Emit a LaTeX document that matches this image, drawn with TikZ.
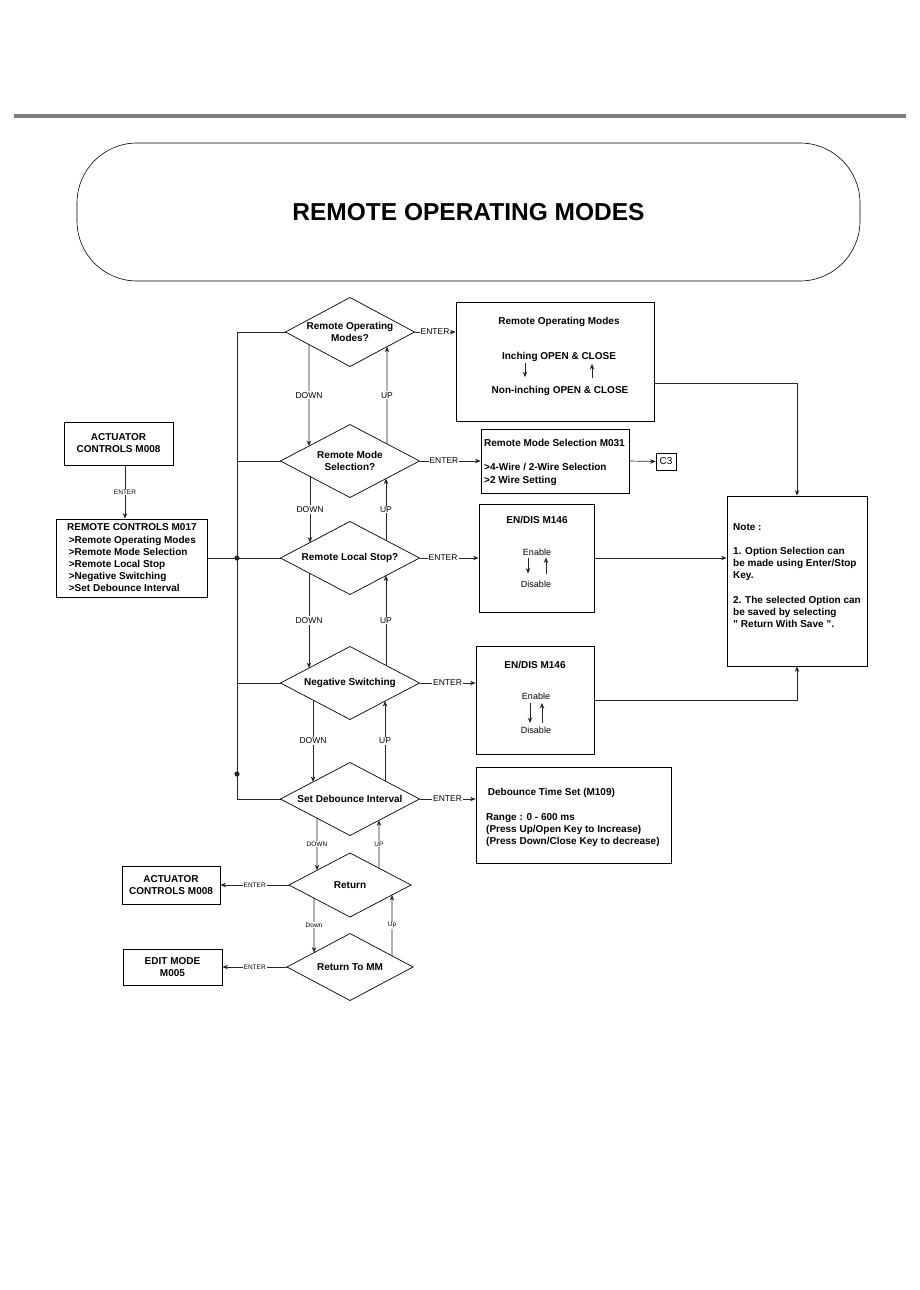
\documentclass[tikz,border=0pt]{standalone}
\usepackage{fontspec}
\setmainfont{Liberation Sans}
\usetikzlibrary{arrows.meta, positioning, shapes.geometric, calc}
\definecolor{bandeau}{HTML}{7F7F7F}
\definecolor{trait}{HTML}{262626}

\begin{document}
\begin{tikzpicture}[x=1pt, y=-1pt,
    boite/.style={draw=black, line width=0.8pt, inner sep=0pt, align=center,
      font=\fontsize{10}{12}\selectfont\bfseries},
    choix/.style={draw=black, line width=0.7pt, diamond, aspect=1.9, inner sep=0pt,
      outer sep=0pt, align=center, font=\fontsize{10}{12}\selectfont\bfseries},
    texte/.style={inner sep=0pt, align=left, font=\fontsize{10}{12}\selectfont\bfseries},
    reg/.style={inner sep=0pt, font=\fontsize{9}{11}\selectfont},
    lien/.style={draw=trait, line width=0.7pt},
    fleche/.style={lien, -{Stealth[length=5.5pt, width=4.5pt]}},
    etiq/.style={fill=white, inner sep=1pt, font=\fontsize{8.5}{10}\selectfont},
    petite/.style={fill=white, inner sep=0.8pt, font=\fontsize{6.5}{8}\selectfont}]
  \useasboundingbox (0,0) rectangle (920,1290);
  % Bandeau et titre
  \fill[bandeau] (14,114) rectangle (906,118);
  \node[draw=black, line width=0.6pt, rounded corners=60pt, minimum width=783,
    minimum height=138, font=\fontsize{24.5}{28}\selectfont\bfseries] (titre) at (468.5,212) {REMOTE OPERATING MODES};
  % Menu de gauche
  \node[boite, minimum width=109, minimum height=43] (act1) at (118.5,443.5) {ACTUATOR\\CONTROLS M008};
  \node[boite, minimum width=151, minimum height=78] (rc) at (131.5,558) {};
  \node[texte, anchor=west, font=\fontsize{10}{12.2}\selectfont\bfseries] (rct) at (67,558) {REMOTE CONTROLS M017\\
    \,>Remote Operating Modes\\ \,>Remote Mode Selection\\ \,>Remote Local Stop\\
    \,>Negative Switching\\ \,>Set Debounce Interval};
  \node[boite, minimum width=98, minimum height=38] (act2) at (171,885) {ACTUATOR\\CONTROLS M008};
  \node[boite, minimum width=99, minimum height=36] (edit) at (172.5,967) {EDIT MODE\\M005};
  % Losanges
  \node[choix, minimum width=129, minimum height=69] (d1) at (350,332) {Remote Operating\\Modes?};
  \node[choix, minimum width=139, minimum height=73] (d2) at (350,461) {Remote Mode\\Selection?};
  \node[choix, minimum width=139, minimum height=73] (d3) at (350,558) {Remote Local Stop?};
  \node[choix, minimum width=139, minimum height=73] (d4) at (350,683) {Negative Switching};
  \node[choix, minimum width=139, minimum height=73] (d5) at (350,799) {Set Debounce Interval};
  \node[choix, minimum width=122, minimum height=64] (d6) at (350,885) {Return};
  \node[choix, minimum width=126, minimum height=67] (d7) at (350,967) {Return To MM};
  % Boites de droite
  \node[boite, minimum width=198, minimum height=119] (rom) at (555,361.5) {};
  \node[texte] (romt) at (559,322) {Remote Operating Modes};
  \node[texte] (inch) at (559,357) {Inching OPEN \& CLOSE};
  \node[texte] (ninch) at (560,391) {Non-inching OPEN \& CLOSE};
  \draw[fleche, shorten <=1pt, shorten >=9pt] ([xshift=-34pt]inch.south) -- ([xshift=-35pt]ninch.north);
  \draw[fleche, shorten <=8pt, shorten >=2pt] ([xshift=32pt]ninch.north) -- ([xshift=33pt]inch.south);
  \node[boite, minimum width=148, minimum height=64] (rms) at (555,461) {};
  \node[texte, anchor=north west, font=\fontsize{10}{12.5}\selectfont\bfseries] (rmst) at (484,439.5)
    {Remote Mode Selection M031\\[11.5pt]>4-Wire / 2-Wire Selection\\>2 Wire Setting};
  \node[draw=black, line width=0.6pt, minimum width=20, minimum height=17, inner sep=0pt,
    font=\fontsize{10}{12}\selectfont] (c3) at (666,461.5) {C3};
  \node[boite, minimum width=115, minimum height=108] (en1) at (536.5,558) {};
  \node[texte] (en1t) at (537,520) {EN/DIS M146};
  \node[reg] (ena1) at (537,552) {Enable};
  \node[reg] (dis1) at (536,584) {Disable};
  \draw[fleche, shorten <=2pt, shorten >=7pt] ([xshift=-9pt]ena1.south) -- ([xshift=-8pt]dis1.north);
  \draw[fleche, shorten <=7pt, shorten >=2pt] ([xshift=10pt]dis1.north) -- ([xshift=9pt]ena1.south);
  \node[boite, minimum width=118, minimum height=108] (en2) at (535,700) {};
  \node[texte] (en2t) at (535,665) {EN/DIS M146};
  \node[reg] (ena2) at (536,696) {Enable};
  \node[reg] (dis2) at (536,730) {Disable};
  \draw[fleche, line width=1pt, shorten <=3.5pt, shorten >=3.5pt] ([xshift=-6pt]ena2.south) -- ([xshift=-6pt]dis2.north);
  \draw[fleche, shorten <=3.5pt, shorten >=3.5pt] ([xshift=6pt]dis2.north) -- ([xshift=6pt]ena2.south);
  \node[boite, minimum width=140, minimum height=170] (note) at (797,581) {};
  \node[texte, anchor=north west] (notet) at (733,523.5) {Note :\\[12pt]1. Option Selection can\\
    be made using Enter/Stop\\Key.\\[13pt]2. The selected Option can\\be saved by selecting\\
    " Return With Save ".};
  \node[boite, minimum width=195, minimum height=96] (deb) at (573.5,815) {};
  \node[texte, anchor=north west] (debt) at (486,788) {\,Debounce Time Set (M109)\\[13pt]Range : 0 - 600 ms\\
    (Press Up/Open Key to Increase)\\(Press Down/Close Key to decrease)};
  % Bus de gauche
  \coordinate (bh) at (237,332);
  \coordinate (bb) at (237,799);
  \coordinate (pt) at (237,774);
  \draw[lien] (d1.west) -- (bh) -- (bb) -- (d5.west);
  \foreach \d in {d2,d4} \draw[lien] (\d.west) -- (\d.west -| bh);
  \draw[lien] (rc.east) -- (d3.west);
  \fill[trait] (d3.west -| bh) circle (2.6);
  \fill[trait] (pt) circle (2.6);
  \draw[fleche] ([xshift=6.5pt]act1.south) -- ([xshift=-6.5pt]rc.north) node[midway, petite] {ENTER};
  % Descente et remontee
  \foreach \h/\b/\f/\g/\lab/\sty in {d1/d2/0.636/0.590/DOWN/etiq, d2/d3/0.576/0.576/DOWN/etiq,
      d3/d4/0.590/0.590/DOWN/etiq, d4/d5/0.532/0.532/DOWN/etiq, d5/d6/0.475/0.541/DOWN/petite,
      d6/d7/0.590/0.571/Down/petite}
    \draw[fleche] ($(\h.south)!\f!(\h.west)$) -- ($(\b.north)!\g!(\b.west)$) node[midway, \sty] {\lab};
  \foreach \b/\h/\f/\g/\lab/\sty in {d2/d1/0.532/0.574/UP/etiq, d3/d2/0.518/0.518/UP/etiq,
      d4/d3/0.518/0.518/UP/etiq, d5/d4/0.504/0.504/UP/etiq, d6/d5/0.475/0.417/UP/petite,
      d7/d6/0.667/0.689/Up/petite}
    \draw[fleche] ($(\b.north)!\f!(\b.east)$) -- ($(\h.south)!\g!(\h.east)$) node[midway, \sty] {\lab};
  % Sorties ENTER
  \draw[fleche] (d1.east) -- (d1.east -| rom.west) node[midway, etiq] {ENTER};
  \draw[fleche] (d2.east) -- (rms.west) node[pos=0.4, etiq] {ENTER};
  \draw[fleche] (d3.east) -- (en1.west) node[pos=0.4, etiq] {ENTER};
  \draw[fleche] (d4.east) -- (d4.east -| en2.west) node[midway, etiq] {ENTER};
  \draw[fleche] (d5.east) -- (d5.east -| deb.west) node[midway, etiq] {ENTER};
  \draw[fleche] (d6.west) -- (act2.east) node[midway, petite] {ENTER};
  \draw[fleche] (d7.west) -- (edit.east) node[midway, petite] {ENTER};
  \draw[fleche] (rms.east) -- (c3.west);
  \draw[fleche] ([yshift=-21.5pt]rom.east) -| (note.north);
  \draw[fleche] (en1.east) -- (en1.east -| note.west);
  \draw[fleche] (en2.east) -| (note.south);
\end{tikzpicture}
\end{document}
